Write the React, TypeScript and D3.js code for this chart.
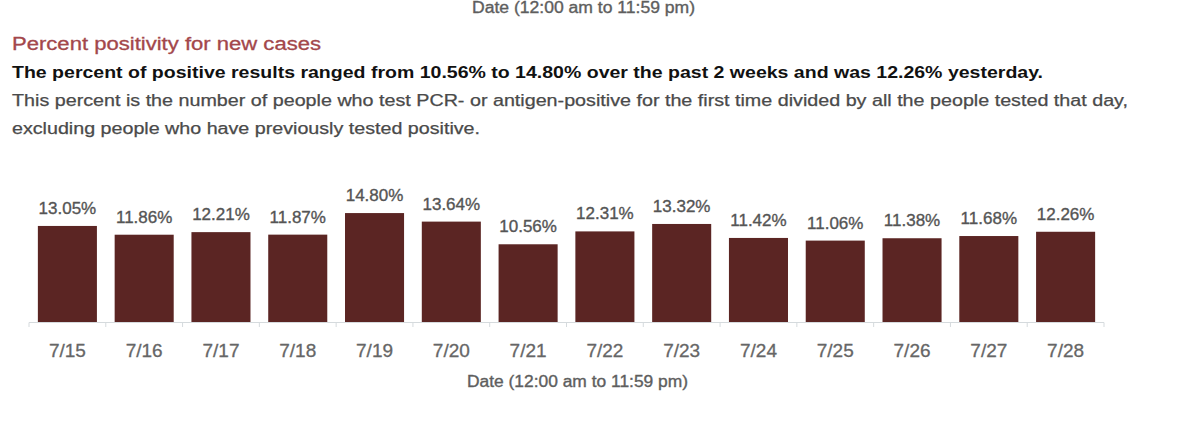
import React from "react";
import * as d3 from "d3";

const dates = ["7/15","7/16","7/17","7/18","7/19","7/20","7/21","7/22","7/23","7/24","7/25","7/26","7/27","7/28"];
const positivity = [13.05,11.86,12.21,11.87,14.80,13.64,10.56,12.31,13.32,11.42,11.06,11.38,11.68,12.26];

const titleText = "Percent positivity for new cases";
const summaryText = "The percent of positive results ranged from 10.56% to 14.80% over the past 2 weeks and was 12.26% yesterday.";
const descLines = [
  "This percent is the number of people who test PCR- or antigen-positive for the first time divided by all the people tested that day,",
  "excluding people who have previously tested positive.",
];
const axisTitle = "Date (12:00 am to 11:59 pm)";

const W = 1200;
const H = 436;
const FONT = "'Liberation Sans', Arial, sans-serif";

export default function App() {
  const x = d3.scaleBand<string>().domain(dates).range([29, 1104]).paddingInner(0.231).paddingOuter(0.1155);
  const y = d3.scaleLinear().domain([0, 15]).range([322, 322 - 15 * 7.36]);
  const bw = x.bandwidth();
  const step = x.step();
  const boundaries = d3.range(dates.length + 1).map((i) => 29 + i * step);

  return (
    <svg width={W} height={H} style={{ position: "absolute", left: 0, top: 0, background: "#fff" }} fontFamily={FONT}>
      <rect width={W} height={H} fill="#fff" />
      {/* cropped axis title from previous chart */}
      <text x={472} y={13} fontSize={16} fill="#5e5e5e" stroke="#5e5e5e" strokeWidth={0.35} textLength={223} lengthAdjust="spacingAndGlyphs">{axisTitle}</text>

      <text x={12} y={50} fontSize={18} fill="#a3474b" stroke="#a3474b" strokeWidth={0.3} textLength={309} lengthAdjust="spacingAndGlyphs">{titleText}</text>
      <text x={12} y={78} fontSize={17} fontWeight="bold" fill="#111" textLength={1031} lengthAdjust="spacingAndGlyphs">{summaryText}</text>
      <text x={12} y={106} fontSize={16} fill="#4a4a4a" stroke="#4a4a4a" strokeWidth={0.25} textLength={1116} lengthAdjust="spacingAndGlyphs">{descLines[0]}</text>
      <text x={12} y={134} fontSize={16} fill="#4a4a4a" stroke="#4a4a4a" strokeWidth={0.25} textLength={468} lengthAdjust="spacingAndGlyphs">{descLines[1]}</text>

      {dates.map((d, i) => (
        <rect key={d} x={x(d)} y={y(positivity[i])} width={bw} height={y(0) - y(positivity[i])} fill="#5b2523" />
      ))}

      <line x1={29} x2={1104} y1={322.5} y2={322.5} stroke="#d5dadd" strokeWidth={1} />
      {boundaries.map((bx, i) => (
        <line key={i} x1={bx} x2={bx} y1={322.5} y2={327} stroke="#d5dadd" strokeWidth={1} />
      ))}

      {dates.map((d, i) => (
        <text key={"v" + d} x={(x(d) as number) + bw / 2} y={y(positivity[i]) - 12} fontSize={17} fill="#555" stroke="#555" strokeWidth={0.35} textAnchor="middle">
          {positivity[i].toFixed(2) + "%"}
        </text>
      ))}

      {dates.map((d) => (
        <text key={"t" + d} x={(x(d) as number) + bw / 2} y={357} fontSize={19} fill="#666" stroke="#666" strokeWidth={0.3} textAnchor="middle">
          {d}
        </text>
      ))}

      <text x={577.5} y={387} fontSize={16} fill="#5e5e5e" stroke="#5e5e5e" strokeWidth={0.35} textAnchor="middle" textLength={221} lengthAdjust="spacingAndGlyphs">{axisTitle}</text>
    </svg>
  );
}
